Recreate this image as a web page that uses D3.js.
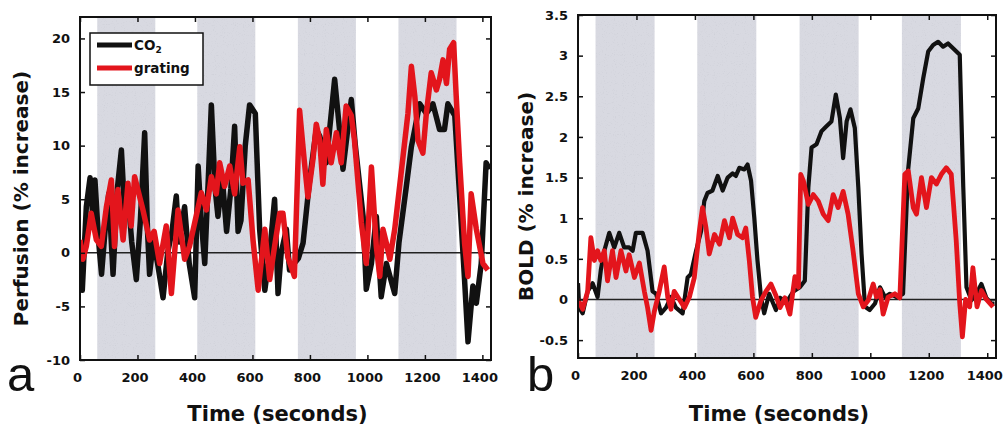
<!DOCTYPE html>
<html>
<head>
<meta charset="utf-8">
<script src="https://cdn.jsdelivr.net/npm/d3@7"></script>
<style>
  body { margin: 0; background: #fff; }
  svg text { font-family: "DejaVu Sans", sans-serif; font-weight: bold; fill: #111; }
  .tick line { stroke: #111; stroke-width: 1.5; }
  .domain { display: none; }
</style>
</head>
<body>
<div id="chart"></div>
<script>
// stimulus blocks (seconds), shaded in both panels
var blocks = [[60, 262], [408, 610], [758, 960], [1108, 1310]];

var xTicks = [0, 200, 400, 600, 800, 1000, 1200, 1400];
var perfTicks = [-10, -5, 0, 5, 10, 15, 20];
var boldTicks = [-0.5, 0, 0.5, 1, 1.5, 2, 2.5, 3, 3.5];

// panel a: perfusion, [time, % increase]
var perfCO2 = [[0,1],[8,-3.5],[22,4.3],[35,7.0],[45,3],[52,6.8],[65,1],[75,-2],[90,3],[100,5.5],[115,-2],
  [130,6],[144,9.6],[155,4],[165,6],[180,1],[196,-2.5],[210,3],[225,11.2],[235,2],[242,-2],[255,1],[270,-1],
  [289,-4.2],[305,0],[320,2],[335,5.3],[345,1],[364,4.3],[380,-1],[399,-4.2],[411,8.1],[422,3],[434,-1],
  [445,6],[457,13.8],[470,6],[480,3.4],[495,7],[510,2],[525,6],[538,11.8],[550,2],[560,3],[575,10],[590,13.8],
  [610,13],[625,2.2],[643,-3.5],[660,0],[677,5.0],[689,-3.8],[700,0],[718,2.2],[729,-1.6],[745,-1],[760,-0.5],
  [776,0.9],[799,6.8],[822,11.5],[834,10.9],[857,8.4],[886,16.2],[903,11.5],[915,7.8],[944,14.3],[958,10],
  [985,3.4],[996,-3.4],[1014,-1],[1031,3.4],[1048,-4.1],[1066,-1],[1095,-3.8],[1110,1],[1135,6.1],[1153,9.9],
  [1182,13.9],[1205,13.0],[1228,13.9],[1251,11.5],[1268,11.5],[1280,13.9],[1304,12.8],[1321,5.2],[1338,-2.5],
  [1350,-8.3],[1367,-3.1],[1379,-4.7],[1396,-1],[1413,8.4],[1425,7.8]];

var perfGrating = [[0,1.2],[10,-0.6],[22,0.6],[39,3.7],[57,1.2],[74,0.6],[92,4.3],[109,6.8],[120,0.6],
  [132,5.9],[150,1.2],[167,6.5],[178,2.5],[190,7.1],[205,5.5],[219,4.0],[242,1.2],[258,2.0],[277,-1.0],
  [300,2.5],[318,-3.8],[341,4.0],[364,-0.6],[381,0.6],[399,2.8],[422,5.6],[440,4.0],[457,7.1],[474,5.5],
  [486,8.4],[503,6.2],[521,8.1],[538,5.5],[556,9.9],[567,6.5],[585,6.8],[602,1.2],[620,-3.5],[643,2.2],
  [660,-2.5],[677,0.6],[695,3.7],[706,3.7],[723,-0.4],[746,-2.2],[764,13.3],[781,8.4],[793,5.2],[811,8.8],
  [822,12.0],[834,10.5],[845,6.4],[857,11.5],[874,8.4],[892,11.2],[909,8.4],[926,13.7],[944,12.8],[955,10.5],
  [979,2.8],[996,-1.0],[1014,8.0],[1031,0.6],[1043,-2.2],[1054,2.2],[1066,0.9],[1078,-0.6],[1095,2.2],
  [1124,9.0],[1141,13.0],[1153,17.4],[1165,14.6],[1176,10.5],[1193,9.3],[1205,13.0],[1222,16.8],[1240,15.2],
  [1251,16.2],[1263,18.0],[1275,15.8],[1286,19.0],[1300,19.6],[1309,14.6],[1321,8.4],[1338,0.9],[1350,-2.2],
  [1361,5.5],[1379,2.2],[1402,-1.0],[1419,-1.6]];

// panel b: BOLD, [time, % increase]
var boldCO2 = [[0,0.2],[4,-0.1],[16,-0.17],[33,0.1],[50,0.2],[67,0.03],[78,0.36],[90,0.6],[107,0.82],
  [124,0.64],[141,0.82],[158,0.64],[175,0.64],[187,0.6],[198,0.82],[221,0.82],[238,0.6],[255,0.1],[267,0.07],
  [284,-0.17],[301,-0.1],[318,0.03],[335,-0.1],[358,-0.17],[375,0.27],[386,0.31],[404,0.6],[421,0.84],
  [432,1.21],[443,1.31],[460,1.34],[478,1.52],[495,1.34],[512,1.5],[529,1.55],[540,1.52],[552,1.62],
  [569,1.6],[580,1.66],[592,1.46],[603,1.01],[614,0.48],[626,0.03],[637,-0.17],[654,0.07],[677,-0.13],
  [691,0.02],[714,-0.03],[737,0.1],[759,0.15],[776,0.23],[788,1.38],[799,1.87],[816,1.91],[833,2.07],
  [850,2.13],[867,2.19],[882,2.52],[896,2.23],[907,1.74],[919,2.19],[932,2.34],[947,2.11],[959,1.38],
  [970,0.56],[982,-0.09],[998,-0.13],[1016,-0.05],[1033,0.15],[1050,0.03],[1067,0.07],[1090,0.03],
  [1112,0.07],[1129,1.58],[1147,2.23],[1164,2.35],[1181,2.72],[1198,3.05],[1215,3.13],[1232,3.17],
  [1249,3.11],[1266,3.15],[1283,3.09],[1306,3.01],[1318,1.38],[1329,0.15],[1346,-0.01],[1363,0.07],
  [1380,0.19],[1397,0.02],[1414,-0.05],[1425,-0.05]];

var boldGrating = [[0,0],[16,-0.12],[33,0.1],[44,0.76],[56,0.48],[67,0.6],[78,0.48],[90,0.6],[101,0.23],
  [118,0.6],[130,0.27],[147,0.6],[164,0.35],[175,0.55],[193,0.27],[210,0.45],[227,0.1],[238,-0.1],
  [250,-0.38],[261,-0.15],[278,0.1],[295,0.4],[307,0.03],[318,-0.12],[329,0.1],[347,0],[364,-0.1],
  [381,0.03],[398,0.27],[415,0.84],[426,1.13],[438,0.88],[449,0.56],[467,0.8],[484,0.68],[501,0.97],
  [518,0.76],[529,1.0],[546,0.8],[563,0.76],[574,0.88],[586,0.48],[597,0.03],[608,-0.22],[626,-0.01],
  [643,0.1],[660,0.19],[677,0.05],[691,-0.1],[708,0.02],[725,-0.18],[742,0.28],[754,0.15],[762,1.54],
  [771,1.46],[788,1.17],[805,1.29],[822,1.21],[839,1.05],[856,0.97],[873,1.29],[890,1.13],[907,1.33],
  [924,1.05],[941,0.6],[959,0.07],[976,-0.09],[993,-0.01],[1010,0.19],[1021,0.03],[1033,0.12],[1044,-0.18],
  [1061,0.03],[1084,0.07],[1101,0.02],[1118,1.54],[1130,1.58],[1147,1.13],[1158,1.05],[1175,1.5],
  [1192,1.13],[1209,1.5],[1226,1.42],[1243,1.54],[1260,1.62],[1277,1.54],[1294,0.72],[1306,-0.05],
  [1315,-0.46],[1326,0],[1340,-0.09],[1351,0.39],[1365,-0.09],[1380,0.11],[1397,0],[1420,-0.09]];

var W = 1003, H = 429;
var svg = d3.select("#chart").append("svg").attr("width", W).attr("height", H);

// stippled grey for the stimulus blocks
var filt = svg.append("defs").append("filter").attr("id", "speckle")
  .attr("x", 0).attr("y", 0).attr("width", 1).attr("height", 1);
filt.append("feTurbulence").attr("type", "fractalNoise").attr("baseFrequency", 0.9)
  .attr("numOctaves", 1).attr("seed", 4).attr("result", "noise");
filt.append("feColorMatrix").attr("in", "noise").attr("type", "matrix")
  .attr("values", "0 0 0 0 0.62  0 0 0 0 0.63  0 0 0 0 0.69  4 0 0 0 -2.3").attr("result", "dots");
filt.append("feComposite").attr("in", "dots").attr("in2", "SourceGraphic").attr("operator", "atop");

function panel(opts) {
  var x = d3.scaleLinear().domain([0, 1430]).range([opts.left, opts.right]);
  var y = d3.scaleLinear().domain(opts.yDomain).range([opts.bottom, opts.top]);
  var g = svg.append("g");

  var clipId = "clip" + opts.id;
  svg.append("clipPath").attr("id", clipId).append("rect")
    .attr("x", opts.left).attr("y", opts.top)
    .attr("width", opts.right - opts.left).attr("height", opts.bottom - opts.top);

  // shaded stimulus blocks
  g.append("g").selectAll("rect").data(blocks).enter().append("rect")
    .attr("x", function(d) { return x(d[0]); })
    .attr("width", function(d) { return x(d[1]) - x(d[0]); })
    .attr("y", opts.top).attr("height", opts.bottom - opts.top)
    .attr("fill", "#d8d9e1").attr("filter", "url(#speckle)");

  // baseline
  g.append("line")
    .attr("x1", opts.left).attr("x2", opts.right)
    .attr("y1", y(0)).attr("y2", y(0))
    .attr("stroke", "#222").attr("stroke-width", 1.5);

  var line = d3.line()
    .x(function(d) { return x(d[0]); })
    .y(function(d) { return y(d[1]); });

  var lines = g.append("g").attr("clip-path", "url(#" + clipId + ")");
  lines.append("path").datum(opts.black).attr("d", line)
    .attr("fill", "none").attr("stroke", "#111").attr("stroke-width", opts.lwBlack)
    .attr("stroke-linejoin", "round");
  lines.append("path").datum(opts.red).attr("d", line)
    .attr("fill", "none").attr("stroke", "#e3151c").attr("stroke-width", opts.lwRed)
    .attr("stroke-linejoin", "round");

  // axes, ticks pointing inward
  var fmt = function(d) { return String(d); };
  g.append("g").attr("transform", "translate(0," + opts.bottom + ")")
    .call(d3.axisBottom(x).tickValues(xTicks).tickSize(-5).tickPadding(13).tickFormat(fmt))
    .call(function(a) { a.selectAll("text").attr("font-size", 13).attr("dx", -3).attr("fill", "#111"); });
  g.append("g").attr("transform", "translate(0," + opts.top + ")")
    .call(d3.axisTop(x).tickValues(xTicks).tickSize(-5).tickFormat(""));
  g.append("g").attr("transform", "translate(" + opts.left + ",0)")
    .call(d3.axisLeft(y).tickValues(opts.yTicks).tickSize(-5).tickPadding(10).tickFormat(fmt))
    .call(function(a) { a.selectAll("text").attr("font-size", 13).attr("fill", "#111"); });
  g.append("g").attr("transform", "translate(" + opts.right + ",0)")
    .call(d3.axisRight(y).tickValues(opts.yTicks).tickSize(-5).tickFormat(""));

  // frame
  g.append("rect")
    .attr("x", opts.left).attr("y", opts.top)
    .attr("width", opts.right - opts.left).attr("height", opts.bottom - opts.top)
    .attr("fill", "none").attr("stroke", "#111").attr("stroke-width", 2);

  // labels
  g.append("text")
    .attr("transform", "translate(" + opts.yLabelX + "," + ((opts.top + opts.bottom) / 2 + 10) + ") rotate(-90)")
    .attr("text-anchor", "middle").attr("font-size", 20)
    .text(opts.yLabel);
  g.append("text")
    .attr("x", (opts.left + opts.right) / 2 - 8).attr("y", 421)
    .attr("text-anchor", "middle").attr("font-size", 21)
    .text("Time (seconds)");
  g.append("text")
    .attr("x", opts.letterX).attr("y", 391)
    .style("font-family", "'Liberation Sans', Arial, sans-serif").style("font-weight", "normal")
    .attr("font-size", 49)
    .text(opts.letter);

  return { x: x, y: y };
}

panel({ id: "a", left: 80, right: 491, top: 17, bottom: 360, yDomain: [-10, 22], yTicks: perfTicks,
  black: perfCO2, red: perfGrating, lwBlack: 5.5, lwRed: 5.5, yLabel: "Perfusion  (% increase)", yLabelX: 28,
  letter: "a", letterX: 7 });
panel({ id: "b", left: 578, right: 996, top: 15, bottom: 358, yDomain: [-0.72, 3.5], yTicks: boldTicks,
  black: boldCO2, red: boldGrating, lwBlack: 4.2, lwRed: 4.8, yLabel: "BOLD  (% increase)", yLabelX: 533,
  letter: "b", letterX: 527 });

// legend
var leg = svg.append("g");
leg.append("rect").attr("x", 90).attr("y", 33).attr("width", 113).attr("height", 52)
  .attr("fill", "#fff").attr("stroke", "#111").attr("stroke-width", 1.5);
var legItems = [{ color: "#111", label: "CO", sub: "2" }, { color: "#e3151c", label: "grating", sub: "" }];
legItems.forEach(function(d, i) {
  var yy = 45 + i * 23;
  leg.append("line").attr("x1", 97).attr("x2", 132).attr("y1", yy).attr("y2", yy)
    .attr("stroke", d.color).attr("stroke-width", 5);
  var t = leg.append("text").attr("x", 134).attr("y", yy + 5).attr("font-size", 13.5).text(d.label);
  if (d.sub) t.append("tspan").attr("font-size", 9).attr("dy", 3).text(d.sub);
});
</script>
</body>
</html>
